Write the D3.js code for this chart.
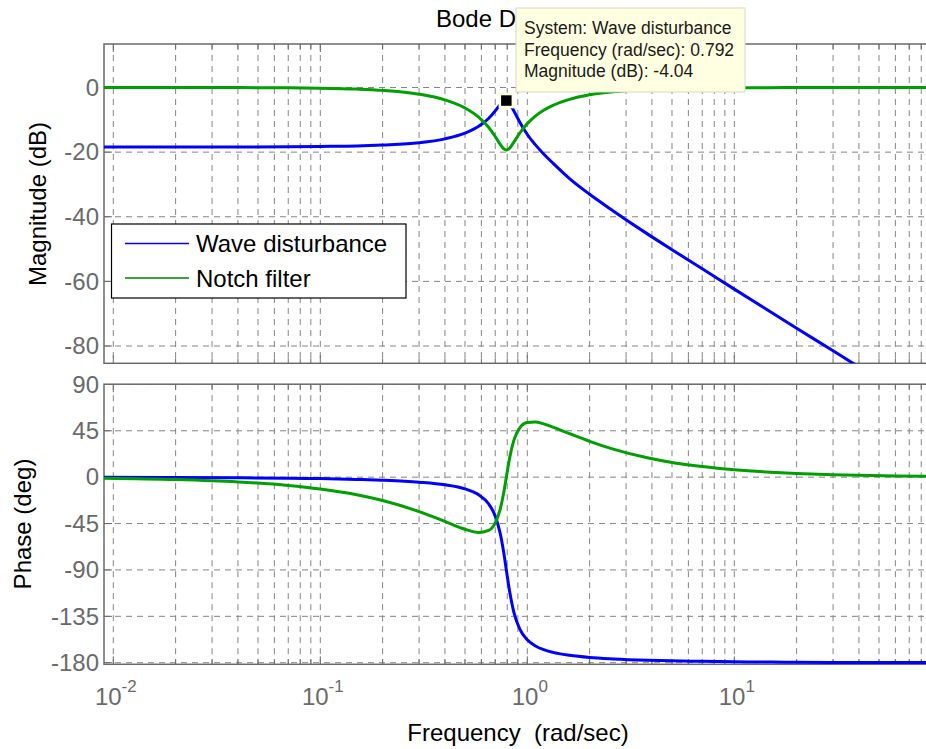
<!DOCTYPE html>
<html>
<head>
<meta charset="utf-8">
<script src="https://cdn.jsdelivr.net/npm/d3@7"></script>
<style>
  html, body { margin: 0; padding: 0; background: #ffffff; }
  svg { display: block; font-family: Arial, "Liberation Sans", Helvetica, sans-serif; }
</style>
</head>
<body>
<svg id="chart" width="926" height="749"></svg>
<script>
// ---------- data ----------
const freq = [0.009, 0.02, 0.04, 0.07, 0.1, 0.15, 0.2, 0.3, 0.4, 0.5, 0.58, 0.65, 0.7, 0.74, 0.77, 0.792,
              0.82, 0.86, 0.92, 1.0, 1.09, 1.2, 1.33, 1.6, 2.0, 2.6, 3.8, 5, 7, 10, 15, 20, 30, 40, 60, 100];

const waveMag = [-18.4, -18.4, -18.4, -18.35, -18.25, -18.1, -17.8, -17.1, -15.9, -14.15, -12.1, -9.6, -7.25,
                 -5.24, -4.18, -4.04, -4.9, -7.2, -10.75, -14.55, -17.6, -20.6, -23.4, -28.2, -33.05, -38.2,
                 -45.3, -50.2, -56.1, -62.4, -69.5, -74.5, -81.5, -86.5, -93.6, -102.5];

const notchMag = [0, -0.01, -0.035, -0.11, -0.22, -0.5, -0.89, -2.06, -3.83, -6.35, -9.11, -12.32, -15.17,
                  -17.6, -18.99, -19.34, -18.81, -16.98, -14.08, -11.18, -8.93, -7.06, -5.55, -3.67, -2.27,
                  -1.31, -0.6, -0.35, -0.18, -0.09, -0.04, -0.02, -0.01, -0.005, 0, 0];

const wavePhase = [-0.13, -0.28, -0.56, -0.98, -1.41, -2.16, -2.97, -4.86, -7.4, -11.4, -16.9, -25.8, -37.8,
                   -54.7, -73.6, -90, -109.9, -130.7, -147.5, -157.8, -163.5, -167.4, -170, -172.8, -174.9,
                   -176.3, -177.6, -178.2, -178.7, -179.1, -179.4, -179.6, -179.7, -179.8, -179.85, -179.9];

const notchPhase = [-1.0, -2.3, -4.6, -8.0, -11.5, -17.1, -22.7, -33.4, -42.9, -50.5, -53.6, -51.6, -44.3,
                    -30.9, -14.6, 0, 17.7, 35.4, 47.9, 53.0, 53.5, 51.7, 48.6, 42.2, 34.8, 27.2, 18.8, 14.3,
                    10.3, 7.2, 4.8, 3.6, 2.4, 1.8, 1.2, 0.7];

const seriesNames = ["Wave disturbance", "Notch filter"];
const seriesColors = ["#0000ff", "#00a000"];
const legendColors = ["#0000ff", "#008000"];

const magTicks = [-80, -60, -40, -20, 0];
const phaseTicks = [-180, -135, -90, -45, 0, 45, 90];
const decadeTicks = [0.01, 0.1, 1, 10, 100];
const labelDecades = [0.01, 0.1, 1, 10];
const decadeExponents = ["-2", "-1", "0", "1"];

const titleText = "Bode Diagram";
const xLabelText = "Frequency  (rad/sec)";
const magLabelText = "Magnitude (dB)";
const phaseLabelText = "Phase (deg)";

const markerPoint = { f: 0.792, mag: -4.04 };
const tooltipLines = ["System: Wave disturbance", "Frequency (rad/sec): 0.792", "Magnitude (dB): -4.04"];

// ---------- layout ----------
const svg = d3.select("#chart");
const axLeft = 104, axRight = 941.3;
const magTop = 44, magBottom = 363.3;
const phTop = 384.2, phBottom = 664.3;

const x = d3.scaleLog().domain([0.01, 100]).range([113.3, 941.3]);
const yMag = d3.scaleLinear().domain([-80, 0]).range([346, 87.5]);
const yPh = d3.scaleLinear().domain([-180, 90]).range([662.7, 384.4]);

const axisColor = "#6a6a6a";
const gridColor = "#858585";

// all log ticks (1..9 x decade)
const logTicks = [];
for (let i = 0; i < decadeTicks.length - 1; i++) {
  for (let k = 1; k <= 9; k++) logTicks.push(k * decadeTicks[i]);
}
logTicks.push(decadeTicks[decadeTicks.length - 1]);

const defs = svg.append("defs");
defs.append("clipPath").attr("id", "clipMag").append("rect")
  .attr("x", axLeft).attr("y", magTop).attr("width", axRight - axLeft).attr("height", magBottom - magTop);
defs.append("clipPath").attr("id", "clipPh").append("rect")
  .attr("x", axLeft).attr("y", phTop).attr("width", axRight - axLeft).attr("height", phBottom - phTop);

function drawAxes(yScale, ticks, top, bottom, clipId) {
  const g = svg.append("g");
  const grid = g.append("g").attr("clip-path", `url(#${clipId})`);
  grid.selectAll("line.vg").data(logTicks).join("line")
    .attr("x1", d => x(d)).attr("x2", d => x(d))
    .attr("y1", top).attr("y2", bottom)
    .attr("stroke", gridColor).attr("stroke-width", 1).attr("stroke-dasharray", "6,5");
  grid.selectAll("line.hg").data(ticks).join("line")
    .attr("x1", axLeft).attr("x2", axRight)
    .attr("y1", d => yScale(d)).attr("y2", d => yScale(d))
    .attr("stroke", gridColor).attr("stroke-width", 1).attr("stroke-dasharray", "6,5");
  const tk = g.append("g").attr("clip-path", `url(#${clipId})`);
  tk.selectAll("line.xb").data(logTicks).join("line")
    .attr("x1", d => x(d)).attr("x2", d => x(d))
    .attr("y1", bottom).attr("y2", d => bottom - (decadeTicks.includes(d) ? 8 : 5))
    .attr("stroke", axisColor).attr("stroke-width", 1);
  tk.selectAll("line.xt").data(logTicks).join("line")
    .attr("x1", d => x(d)).attr("x2", d => x(d))
    .attr("y1", top).attr("y2", d => top + (decadeTicks.includes(d) ? 8 : 5))
    .attr("stroke", axisColor).attr("stroke-width", 1);
  tk.selectAll("line.yl").data(ticks).join("line")
    .attr("x1", axLeft).attr("x2", axLeft + 8)
    .attr("y1", d => yScale(d)).attr("y2", d => yScale(d))
    .attr("stroke", axisColor).attr("stroke-width", 1);
  const ya = g.append("g").attr("transform", `translate(${axLeft - 5},0)`)
    .call(d3.axisLeft(yScale).tickValues(ticks).tickSize(0).tickPadding(0).tickFormat(d3.format("d")));
  ya.select(".domain").remove();
  ya.selectAll("text").attr("fill", axisColor).attr("font-size", 24)
    .attr("font-family", "Arial, 'Liberation Sans', sans-serif")
    .text(d => d < 0 ? "-" + Math.abs(d) : String(d));
  g.append("rect").attr("x", axLeft).attr("y", top)
    .attr("width", axRight - axLeft).attr("height", bottom - top)
    .attr("fill", "none").attr("stroke", axisColor).attr("stroke-width", 1.5);
  return g;
}

drawAxes(yMag, magTicks, magTop, magBottom, "clipMag");
drawAxes(yPh, phaseTicks, phTop, phBottom, "clipPh");

// x tick labels (bottom axes) via d3 axis, with superscript exponents
const xa = svg.append("g").attr("transform", `translate(0,${phBottom})`)
  .call(d3.axisBottom(x).tickValues(labelDecades).tickSize(0).tickFormat(() => ""));
xa.select(".domain").remove();
xa.selectAll(".tick text").each(function(d, i) {
  const t = d3.select(this)
    .attr("y", 0).attr("dy", null)
    .attr("transform", "translate(2,41)")
    .attr("fill", axisColor).attr("font-size", 24)
    .attr("text-anchor", "middle");
  t.text(null);
  t.append("tspan").text("10");
  t.append("tspan").attr("font-size", 17).attr("dy", -13).text(decadeExponents[i]);
});

// ---------- curves ----------
const lineGen = (yScale, vals) => d3.line()
  .x((d, i) => x(freq[i])).y((d, i) => yScale(vals[i]))
  .curve(d3.curveMonotoneX)(vals);

const magSeries = [waveMag, notchMag];
const phSeries = [wavePhase, notchPhase];
const gMagCurves = svg.append("g").attr("clip-path", "url(#clipMag)");
const gPhCurves = svg.append("g").attr("clip-path", "url(#clipPh)");
magSeries.forEach((vals, s) => {
  gMagCurves.append("path").attr("d", lineGen(yMag, vals))
    .attr("fill", "none").attr("stroke", seriesColors[s]).attr("stroke-width", 3)
    .attr("stroke-linejoin", "round");
});
phSeries.forEach((vals, s) => {
  gPhCurves.append("path").attr("d", lineGen(yPh, vals))
    .attr("fill", "none").attr("stroke", seriesColors[s]).attr("stroke-width", 3)
    .attr("stroke-linejoin", "round");
});

// ---------- axis labels ----------
svg.append("text").attr("transform", "translate(46,204) rotate(-90)")
  .attr("text-anchor", "middle").attr("font-size", 24).attr("fill", "#000").text(magLabelText);
svg.append("text").attr("transform", "translate(31,524) rotate(-90)")
  .attr("text-anchor", "middle").attr("font-size", 24).attr("fill", "#000").text(phaseLabelText);
svg.append("text").attr("x", 518).attr("y", 741).attr("text-anchor", "middle")
  .attr("font-size", 24).attr("fill", "#000").style("white-space", "pre").text(xLabelText);

// title (partly hidden behind the data tip, as in the reference)
svg.append("text").attr("x", 436).attr("y", 27).attr("font-size", 24).attr("fill", "#000").text(titleText);

// ---------- legend ----------
const lg = svg.append("g");
lg.append("rect").attr("x", 111.5).attr("y", 224).attr("width", 294.5).attr("height", 74)
  .attr("fill", "#fff").attr("stroke", "#000").attr("stroke-width", 1.2);
seriesNames.forEach((name, i) => {
  const yy = 243.5 + i * 34.5;
  lg.append("line").attr("x1", 125).attr("x2", 189).attr("y1", yy).attr("y2", yy)
    .attr("stroke", legendColors[i]).attr("stroke-width", 1.5);
  lg.append("text").attr("x", 196).attr("y", yy + 8.5).attr("font-size", 24).attr("fill", "#000").text(name);
});

// ---------- data tip ----------
svg.append("rect")
  .attr("x", x(markerPoint.f) - 6.5).attr("y", yMag(markerPoint.mag) - 6.5)
  .attr("width", 13).attr("height", 13)
  .attr("fill", "#000").attr("stroke", "#ffffe1").attr("stroke-width", 2.5);

const tip = svg.append("g");
tip.append("rect").attr("x", 516).attr("y", 8).attr("width", 229).attr("height", 84)
  .attr("fill", "#ffffe1").attr("stroke", "#d8d8c8").attr("stroke-width", 1);
tooltipLines.forEach((t, i) => {
  tip.append("text").attr("x", 524).attr("y", 34 + i * 21.5)
    .attr("font-size", 17.5).attr("fill", "#1a1a1a").text(t);
});
</script>
</body>
</html>
